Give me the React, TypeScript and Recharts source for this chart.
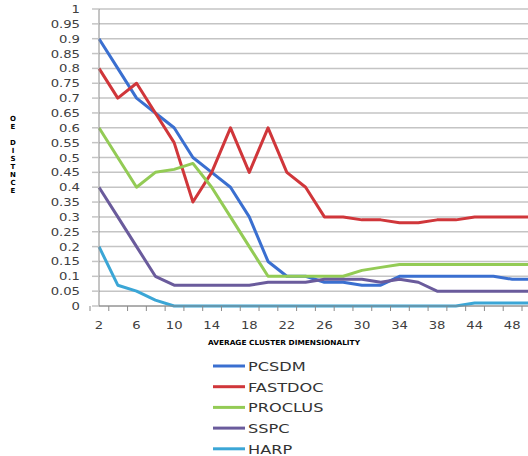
import { LineChart, Line, XAxis, YAxis, CartesianGrid } from 'recharts';

// x categories (average cluster dimensionality)
const dims = [2, 4, 6, 8, 10, 12, 14, 16, 18, 20, 22, 24, 26, 28, 30, 32, 34, 36, 38, 40, 44, 46, 48, 50];

const pcsdm = [0.9, 0.8, 0.7, 0.65, 0.6, 0.5, 0.45, 0.4, 0.3, 0.15, 0.1, 0.1, 0.08, 0.08, 0.07, 0.07, 0.1, 0.1, 0.1, 0.1, 0.1, 0.1, 0.09, 0.09];
const fastdoc = [0.8, 0.7, 0.75, 0.65, 0.55, 0.35, 0.45, 0.6, 0.45, 0.6, 0.45, 0.4, 0.3, 0.3, 0.29, 0.29, 0.28, 0.28, 0.29, 0.29, 0.3, 0.3, 0.3, 0.3];
const proclus = [0.6, 0.5, 0.4, 0.45, 0.46, 0.48, 0.4, 0.3, 0.2, 0.1, 0.1, 0.1, 0.1, 0.1, 0.12, 0.13, 0.14, 0.14, 0.14, 0.14, 0.14, 0.14, 0.14, 0.14];
const sspc = [0.4, 0.3, 0.2, 0.1, 0.07, 0.07, 0.07, 0.07, 0.07, 0.08, 0.08, 0.08, 0.09, 0.09, 0.09, 0.08, 0.09, 0.08, 0.05, 0.05, 0.05, 0.05, 0.05, 0.05];
const harp = [0.2, 0.07, 0.05, 0.02, 0, 0, 0, 0, 0, 0, 0, 0, 0, 0, 0, 0, 0, 0, 0, 0, 0.01, 0.01, 0.01, 0.01];

const yTicks = [0, 0.05, 0.1, 0.15, 0.2, 0.25, 0.3, 0.35, 0.4, 0.45, 0.5, 0.55, 0.6, 0.65, 0.7, 0.75, 0.8, 0.85, 0.9, 0.95, 1];

const xTitle = 'AVERAGE CLUSTER DIMENSIONALITY';
const yTitle = ['O', 'E', '', 'D', 'I', 'S', 'T', 'N', 'C', 'E'];

const series = [
  { key: 'PCSDM', values: pcsdm, color: '#3a6fd0' },
  { key: 'FASTDOC', values: fastdoc, color: '#d0363a' },
  { key: 'PROCLUS', values: proclus, color: '#93cb55' },
  { key: 'SSPC', values: sspc, color: '#6a5b9c' },
  { key: 'HARP', values: harp, color: '#3ba6d6' },
];

const data = dims.map((d, i) => {
  const row: Record<string, number> = { dim: d };
  series.forEach((s) => (row[s.key] = s.values[i]));
  return row;
});

const FONT = '"DejaVu Sans", Verdana, sans-serif';
const GRID = '#c4c4c4';
const AXIS = '#8a8a8a';

const XTick = ({ x, y, payload, index }: any) => (
  <g>
    <line x1={x - 9} x2={x - 9} y1={y} y2={y + 5} stroke={AXIS} strokeWidth={1} />
    {index % 2 === 0 && (
      <text
        transform={`translate(${x},${y + 23}) scale(1.32,1)`}
        textAnchor="middle"
        fontFamily={FONT}
        fontSize={10}
        fill="#404040"
      >
        {payload.value}
      </text>
    )}
  </g>
);

const YTick = ({ x, y, payload }: any) => (
  <g>
    <line x1={x - 7} x2={x} y1={y} y2={y} stroke={GRID} strokeWidth={1.5} />
    <text
      transform={`translate(${x - 19},${y + 4}) scale(1.32,1)`}
      textAnchor="end"
      fontFamily={FONT}
      fontSize={10}
      fill="#404040"
    >
      {payload.value}
    </text>
  </g>
);

export default function App() {
  return (
    <div style={{ position: 'absolute', left: 0, top: 0, width: 528, height: 456, overflow: 'hidden', background: '#fff' }}>
      <LineChart width={540} height={456} data={data} margin={{ top: 9, right: 9, left: 0, bottom: 110 }}>
        <CartesianGrid vertical={false} stroke={GRID} strokeWidth={1.5} />
        <XAxis
          dataKey="dim"
          interval={0}
          tickSize={0}
          tickMargin={0}
          tick={<XTick />}
          axisLine={{ stroke: AXIS, strokeWidth: 1 }}
          tickLine={false}
          height={40}
        />
        <YAxis
          domain={[0, 1]}
          ticks={yTicks}
          interval={0}
          width={99}
          tickSize={0}
          tickMargin={0}
          tick={<YTick />}
          axisLine={{ stroke: AXIS, strokeWidth: 1 }}
          tickLine={false}
        />
        {series.map((s) => (
          <Line
            key={s.key}
            dataKey={s.key}
            type="linear"
            stroke={s.color}
            strokeWidth={3}
            dot={false}
            strokeLinejoin="round"
            isAnimationActive={false}
          />
        ))}
      </LineChart>

      {/* axis titles and legend */}
      <svg width={528} height={456} style={{ position: 'absolute', left: 0, top: 0, pointerEvents: 'none' }}>
        <text
          x={284}
          y={345}
          textAnchor="middle"
          fontFamily={FONT}
          fontSize={7}
          fontWeight="bold"
          fill="#000"
          textLength={152}
          lengthAdjust="spacingAndGlyphs"
        >
          {xTitle}
        </text>
        {yTitle.map((c, i) => (
          <text key={i} x={13} y={121 + i * 8} textAnchor="middle" fontFamily={FONT} fontSize={7} fontWeight="bold" fill="#000">
            {c}
          </text>
        ))}
        {series.map((s, i) => (
          <g key={s.key}>
            <line x1={213} x2={245} y1={366 + i * 20.7} y2={366 + i * 20.7} stroke={s.color} strokeWidth={3} />
            <text
              transform={`translate(248,${366 + i * 20.7 + 5}) scale(1.35,1)`}
              fontFamily={FONT}
              fontSize={12}
              fill="#333"
            >
              {s.key}
            </text>
          </g>
        ))}
      </svg>
    </div>
  );
}
